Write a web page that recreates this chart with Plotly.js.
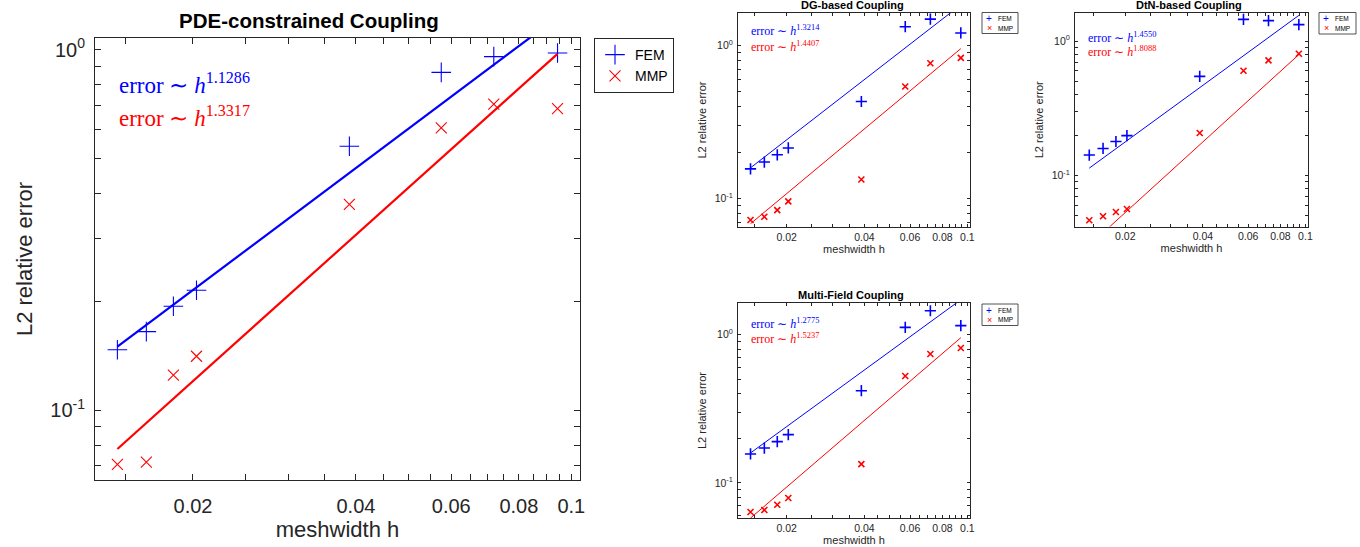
<!DOCTYPE html>
<html><head><meta charset="utf-8">
<script src="https://cdn.plot.ly/plotly-3.0.1.min.js"></script>
<style>html,body{margin:0;padding:0;background:#fff}#chart{width:1360px;height:547px}</style>
</head><body><div id="chart"></div>
<script>
// ---- data ----
const h = [0.0145, 0.0164, 0.0184, 0.0203, 0.0389, 0.0575, 0.0719, 0.0943];
const pdeFem = [0.147, 0.165, 0.194, 0.215, 0.539, 0.864, 0.956, 0.978];
const pdeMmp = [0.0707, 0.0717, 0.125, 0.141, 0.372, 0.606, 0.706, 0.686];
const dgFem  = [0.156, 0.173, 0.193, 0.214, 0.431, 1.33, 1.49, 1.21];
const dgMmp  = [0.0722, 0.0759, 0.0839, 0.0956, 0.133, 0.540, 0.767, 0.831];
const dtnFem = [0.142, 0.159, 0.179, 0.198, 0.547, 1.455, 1.423, 1.329];
const dtnMmp = [0.0464, 0.0497, 0.0535, 0.0563, 0.207, 0.603, 0.719, 0.806];
const mfFem  = [0.157, 0.172, 0.190, 0.212, 0.419, 1.12, 1.45, 1.15];
const mfMmp  = [0.0637, 0.0658, 0.0714, 0.0792, 0.134, 0.526, 0.741, 0.813];
// fitted lines: end points (h, error)
const fitH = [0.0145, 0.0943];
const pdeFemFit = [0.150, 1.23];
const pdeMmpFit = [0.078, 0.973];
const dgFemFit  = [0.1586, 1.85];
const dgMmpFit  = [0.0683, 0.956];
const dtnFemFit = [0.1134, 1.557];
const dtnMmpFit = [0.0302, 0.795];
const mfFemFit  = [0.1594, 1.72];
const mfMmpFit  = [0.058, 0.954];
const panelTitles = ['PDE-constrained Coupling', 'DG-based Coupling', 'DtN-based Coupling', 'Multi-Field Coupling'];
const femRates = ['1.1286', '1.3214', '1.4550', '1.2775'];
const mmpRates = ['1.3317', '1.4407', '1.8088', '1.5237'];
const seriesNames = ['FEM', 'MMP'];
const xLabel = 'meshwidth h';
const yLabel = 'L2 relative error';
const xTickVals = [0.02, 0.04, 0.06, 0.08, 0.1];
const xTickText = ['0.02', '0.04', '0.06', '0.08', '0.1'];
const xMinorVals = [0.015,0.025,0.03,0.035,0.045,0.05,0.055,0.065,0.07,0.075,0.085,0.09,0.095];
const yTickVals = [0.1, 1];
const yTickText = ['10<sup>-1</sup>', '10<sup>0</sup>'];
const yMinorVals = [0.04,0.05,0.06,0.07,0.08,0.09,0.2,0.3,0.4,0.5,0.6,0.7,0.8,0.9];

// ---- layout helpers ----
const W = 1360, H = 547;
const px = x => x / W, py = y => 1 - y / H;
const AX = '#262626', BLUE = '#0000ff', RED = '#ff0000';
const SANS = 'Liberation Sans, Arial, sans-serif';
const SERIF = 'Liberation Serif, Times New Roman, serif';

const panels = [
  {fem: pdeFem, mmp: pdeMmp, femFit: pdeFemFit, mmpFit: pdeMmpFit,
   box: [95, 38, 580, 480], xr: [-1.880, -0.984], yr: [-1.194, 0.032],
   tick: 20, lab: 22, ttl: 20.5, ann: 23, ms: [14, 11], lw: 2.2, mlw: 1.1, tl: 6,
   ttlPos: [309, 20], annX: 117, annY: [83, 116],
   xstand: 4, ystand: 11, xtls: 8, ytls: 5, plotlyLegend: true},
  {fem: dgFem, mmp: dgMmp, femFit: dgFemFit, mmpFit: dgMmpFit,
   box: [738, 13, 970, 227], xr: [-1.887, -0.990], yr: [-1.187, 0.2135],
   tick: 10.5, lab: 11, ttl: 11, ann: 12, ms: [8, 6], lw: 1, mlw: 1.6, tl: 3,
   ttlPos: [852, 5], annX: 749, annY: [31, 46], legBox: [982, 12.5, 1018, 33.5],
   xstand: 2, ystand: 5, xtls: 0, ytls: 2},
  {fem: dtnFem, mmp: dtnMmp, femFit: dtnFemFit, mmpFit: dtnMmpFit,
   box: [1075, 13, 1308, 226.5], xr: [-1.894, -0.990], yr: [-1.38, 0.21],
   tick: 10.5, lab: 11, ttl: 11, ann: 12, ms: [8, 6], lw: 1, mlw: 1.6, tl: 3,
   ttlPos: [1189, 5], annX: 1086, annY: [37, 52], legBox: [1319, 12.5, 1356, 34],
   xstand: 2, ystand: 5, xtls: 0, ytls: 2},
  {fem: mfFem, mmp: mfMmp, femFit: mfFemFit, mmpFit: mfMmpFit,
   box: [738, 303, 970, 518], xr: [-1.887, -0.990], yr: [-1.236, 0.2135],
   tick: 10.5, lab: 11, ttl: 11, ann: 12, ms: [8, 6], lw: 1, mlw: 1.6, tl: 3,
   ttlPos: [851, 295], annX: 749, annY: [323, 338], legBox: [982, 304, 1018, 325.5],
   xstand: 2, ystand: 5, xtls: 0, ytls: 2}
];

const data = [];
const layout = {
  width: W, height: H, margin: {l: 0, r: 0, t: 0, b: 0, pad: 0},
  paper_bgcolor: '#fff', plot_bgcolor: '#fff', showlegend: true,
  font: {family: SANS, color: AX},
  legend: {
    x: px(594), y: py(38), xanchor: 'left', yanchor: 'top', xref: 'paper', yref: 'paper',
    bgcolor: '#fff', bordercolor: AX, borderwidth: 1,
    font: {family: SANS, size: 14, color: '#000'}, itemwidth: 30, tracegroupgap: 0
  },
  annotations: [], shapes: []
};

panels.forEach((p, i) => {
  const n = i === 0 ? '' : String(i + 1);
  const xa = 'x' + n, ya = 'y' + n;
  const [x0, y0, x1, y1] = p.box;
  const minorCommon = {ticks: 'inside', ticklen: p.tl, tickwidth: 1, tickcolor: AX, showgrid: false, tickmode: 'array'};
  layout['xaxis' + n] = {
    type: 'log', domain: [px(x0), px(x1)], range: p.xr, anchor: ya,
    tickmode: 'array', tickvals: xTickVals, ticktext: xTickText,
    minor: Object.assign({tickvals: xMinorVals}, minorCommon),
    ticks: 'inside', ticklen: p.tl, tickwidth: 1, tickcolor: AX,
    showline: true, linecolor: AX, linewidth: 1, mirror: 'ticks',
    showgrid: false, zeroline: false, automargin: false, ticklabelstandoff: p.xtls,
    tickfont: {family: SANS, size: p.tick, color: AX},
    title: {text: xLabel, font: {family: SANS, size: p.lab, color: AX}, standoff: p.xstand}
  };
  layout['yaxis' + n] = {
    type: 'log', domain: [py(y1), py(y0)], range: p.yr, anchor: xa,
    tickmode: 'array', tickvals: yTickVals, ticktext: yTickText,
    minor: Object.assign({tickvals: yMinorVals}, minorCommon),
    ticks: 'inside', ticklen: p.tl, tickwidth: 1, tickcolor: AX,
    showline: true, linecolor: AX, linewidth: 1, mirror: 'ticks',
    showgrid: false, zeroline: false, automargin: false, ticklabelstandoff: p.ytls,
    tickfont: {family: SANS, size: p.tick, color: AX},
    title: {text: yLabel, font: {family: SANS, size: p.lab, color: AX}, standoff: p.ystand}
  };
  const showLeg = !!p.plotlyLegend;
  data.push({
    type: 'scatter', mode: 'markers', x: h, y: p.fem, name: seriesNames[0],
    xaxis: xa, yaxis: ya, showlegend: showLeg,
    marker: {symbol: 'cross-thin-open', size: p.ms[0], color: BLUE, line: {width: p.mlw, color: BLUE}}
  });
  data.push({
    type: 'scatter', mode: 'markers', x: h, y: p.mmp, name: seriesNames[1],
    xaxis: xa, yaxis: ya, showlegend: showLeg,
    marker: {symbol: 'x-thin-open', size: p.ms[1], color: RED, line: {width: p.mlw, color: RED}}
  });
  data.push({
    type: 'scatter', mode: 'lines', x: fitH, y: p.femFit, showlegend: false, hoverinfo: 'skip',
    xaxis: xa, yaxis: ya, line: {color: BLUE, width: p.lw}
  });
  data.push({
    type: 'scatter', mode: 'lines', x: fitH, y: p.mmpFit, showlegend: false, hoverinfo: 'skip',
    xaxis: xa, yaxis: ya, line: {color: RED, width: p.lw}
  });
  layout.annotations.push({
    text: '<b>' + panelTitles[i] + '</b>', xref: 'paper', yref: 'paper',
    x: px(p.ttlPos[0]), y: py(p.ttlPos[1]), xanchor: 'center', yanchor: 'middle',
    showarrow: false, font: {family: SANS, size: p.ttl, color: '#000'}
  });
  layout.annotations.push({
    text: 'error ∼ <i>h</i><sup>' + femRates[i] + '</sup>', xref: 'paper', yref: 'paper',
    x: px(p.annX), y: py(p.annY[0]), xanchor: 'left', yanchor: 'middle',
    showarrow: false, font: {family: SERIF, size: p.ann, color: BLUE}
  });
  layout.annotations.push({
    text: 'error ∼ <i>h</i><sup>' + mmpRates[i] + '</sup>', xref: 'paper', yref: 'paper',
    x: px(p.annX), y: py(p.annY[1]), xanchor: 'left', yanchor: 'middle',
    showarrow: false, font: {family: SERIF, size: p.ann, color: RED}
  });
  if (p.legBox) {
    const [lx0, ly0, lx1, ly1] = p.legBox;
    layout.shapes.push({type: 'rect', xref: 'paper', yref: 'paper',
      x0: px(lx0), x1: px(lx1), y0: py(ly1), y1: py(ly0),
      line: {color: AX, width: 0.8}, fillcolor: '#fff', layer: 'above'});
    const rowY = [ly0 + 6.5, ly0 + 15.5];
    const sym = ['+', '×'], col = [BLUE, RED], sz = [10, 9];
    [0, 1].forEach(k => {
      layout.annotations.push({text: sym[k], xref: 'paper', yref: 'paper',
        x: px(lx0 + 7), y: py(rowY[k]), xanchor: 'center', yanchor: 'middle',
        showarrow: false, borderpad: 0, font: {family: SANS, size: sz[k], color: col[k]}});
      layout.annotations.push({text: seriesNames[k], xref: 'paper', yref: 'paper',
        x: px(lx0 + 15), y: py(rowY[k]), xanchor: 'left', yanchor: 'middle',
        showarrow: false, borderpad: 0, font: {family: SANS, size: 6.5, color: '#000'}});
    });
  }
});

Plotly.newPlot('chart', data, layout, {staticPlot: true, displayModeBar: false});
</script>
</body></html>
